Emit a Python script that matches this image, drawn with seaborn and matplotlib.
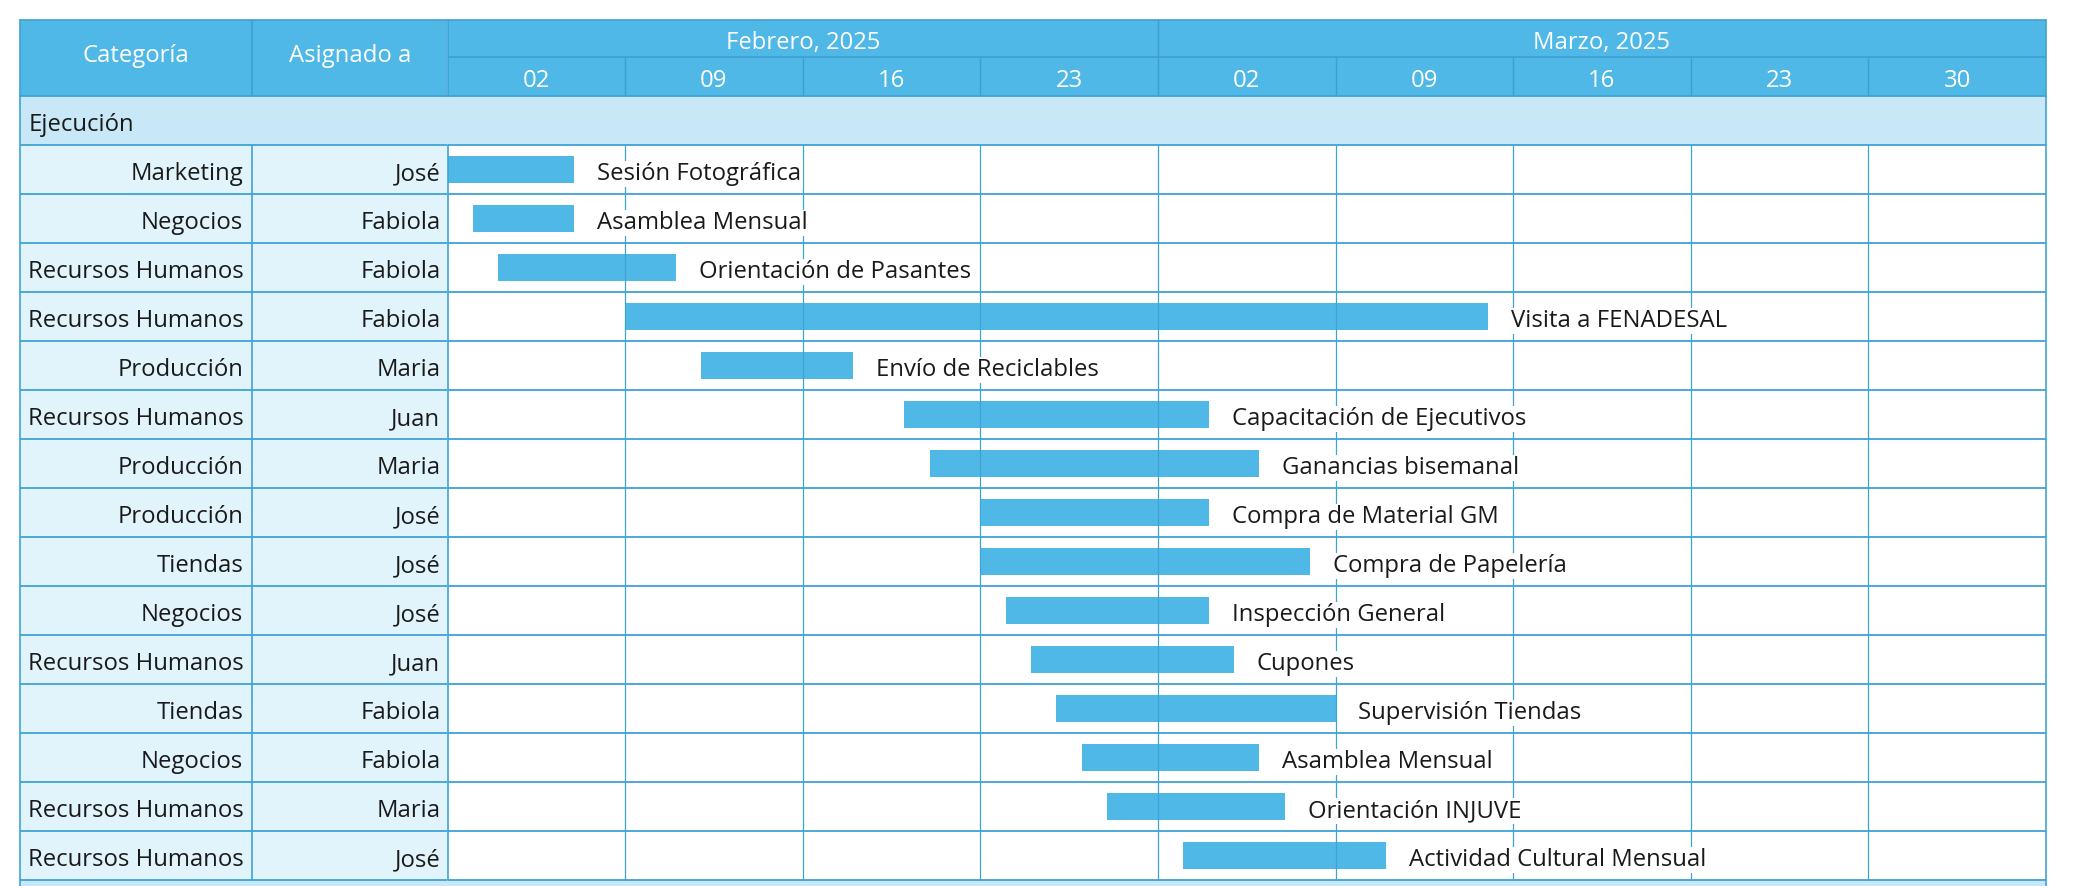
import numpy as np
import pandas as pd
import matplotlib
matplotlib.use("Agg")
import matplotlib.pyplot as plt
import matplotlib.dates as mdates
from matplotlib.patches import Rectangle
import seaborn as sns

# ---------------- data ----------------
categories = ["Marketing", "Negocios", "Recursos Humanos", "Recursos Humanos", "Producción",
              "Recursos Humanos", "Producción", "Producción", "Tiendas", "Negocios",
              "Recursos Humanos", "Tiendas", "Negocios", "Recursos Humanos", "Recursos Humanos"]
assignees = ["José", "Fabiola", "Fabiola", "Fabiola", "Maria", "Juan", "Maria", "José", "José",
             "José", "Juan", "Fabiola", "Fabiola", "Maria", "José"]
tasks = ["Sesión Fotográfica", "Asamblea Mensual", "Orientación de Pasantes", "Visita a FENADESAL",
         "Envío de Reciclables", "Capacitación de Ejecutivos", "Ganancias bisemanal",
         "Compra de Material GM", "Compra de Papelería", "Inspección General", "Cupones",
         "Supervisión Tiendas", "Asamblea Mensual", "Orientación INJUVE", "Actividad Cultural Mensual"]
starts = ["2025-02-02", "2025-02-03", "2025-02-04", "2025-02-09", "2025-02-12", "2025-02-20",
          "2025-02-21", "2025-02-23", "2025-02-23", "2025-02-24", "2025-02-25", "2025-02-26",
          "2025-02-27", "2025-02-28", "2025-03-03"]
ends = ["2025-02-07", "2025-02-07", "2025-02-11", "2025-03-15", "2025-02-18", "2025-03-04",
        "2025-03-06", "2025-03-04", "2025-03-08", "2025-03-04", "2025-03-05", "2025-03-09",
        "2025-03-06", "2025-03-07", "2025-03-11"]
group_name = "Ejecución"
header_cols = ["Categoría", "Asignado a"]
month_labels = ["Febrero, 2025", "Marzo, 2025"]
month_starts = ["2025-02-02", "2025-03-02"]
month_ends = ["2025-03-02", "2025-04-06"]
week_labels = ["02", "09", "16", "23", "02", "09", "16", "23", "30"]
week_starts = ["2025-02-02", "2025-02-09", "2025-02-16", "2025-02-23", "2025-03-02",
               "2025-03-09", "2025-03-16", "2025-03-23", "2025-03-30"]
range_end = "2025-04-06"

# ---------------- style ----------------
sns.set_theme(style="white")
plt.rcParams['font.family'] = ['Open Sans', 'DejaVu Sans']

HEAD = "#4fb8e6"
GROUP = "#c8e8f8"
CELL = "#e1f4fc"
BAR = "#4fb8e6"
LINE = "#3fa3d5"
HLINE = "#3d9fcd"
TXT = "#1a1a1a"
FS = 17.2

W, H = 2076, 886
fig = plt.figure(figsize=(W / 100, H / 100), dpi=100)
fig.patch.set_facecolor("white")


def ax_at(x0, y0, x1, y1):
    return fig.add_axes([x0 / W, 1 - y1 / H, (x1 - x0) / W, (y1 - y0) / H])


TL, C1, C2, TR = 19.5, 252.3, 447.5, 2046
HT, HM, HB = 19.5, 57.3, 96.3
ROW = 49.0
BASE = 10.2 / ROW          # baseline offset below row centre (row units)
n = len(tasks)
ybot = -0.5 + (H - HB) / ROW

s_num = mdates.date2num(pd.to_datetime(starts))
e_num = mdates.date2num(pd.to_datetime(ends))
w_num = mdates.date2num(pd.to_datetime(week_starts))
d0 = w_num[0]
d1 = mdates.date2num(pd.to_datetime(range_end))

# ---------------- body (timeline) ----------------
ax = ax_at(C2, HB, TR, H)
row_ids = [f"t{i:02d}" for i in range(1, n + 1)]
order = ["g0"] + row_ids
df = pd.DataFrame({"row": row_ids, "start": s_num, "dur": e_num - s_num})
sns.barplot(data=df, y="row", x="dur", order=order, orient="y", left=df["start"].to_numpy(),
            color=BAR, saturation=1, width=0.55, errorbar=None, ax=ax, zorder=1, linewidth=0)
ax.set_xlim(d0, d1)
ax.set_ylim(ybot, -0.5)
ax.axhspan(-0.5, 0.5, color=GROUP, lw=0, zorder=0)
ax.axhspan(n + 0.5, n + 1.5, color=GROUP, lw=0, zorder=0)
ax.vlines(w_num[1:], 0.5, n + 0.5, color=LINE, lw=0.9, zorder=2)
ax.hlines(np.arange(0.5, n + 1, 1), d0, d1, color=LINE, lw=1.3, zorder=2.5)
for i, (e, t) in enumerate(zip(e_num, tasks)):
    ax.annotate(t, xy=(e, i + 1 + BASE), xytext=(16.5, 0), textcoords="offset points",
                ha="left", va="baseline", fontsize=FS, color=TXT, zorder=3,
                bbox=dict(fc="white", ec="none", pad=1.0))
ax.set_axis_off()

# ---------------- left columns ----------------
axl = ax_at(TL, HB, C2, H)
axl.set_xlim(TL, C2)
axl.set_ylim(ybot, -0.5)
axl.axhspan(-0.5, 0.5, color=GROUP, lw=0, zorder=0)
axl.axhspan(0.5, n + 0.5, color=CELL, lw=0, zorder=0)
axl.axhspan(n + 0.5, n + 1.5, color=GROUP, lw=0, zorder=0)
axl.vlines([C1], 0.5, n + 0.5, color=LINE, lw=1.2, zorder=2)
axl.hlines(np.arange(0.5, n + 1, 1), TL, C2, color=LINE, lw=1.3, zorder=2)
axl.text(TL + 9.5, 0 + BASE, group_name, ha="left", va="baseline", fontsize=FS, color=TXT)
for i, (c, a) in enumerate(zip(categories, assignees)):
    axl.text(C1 - 9, i + 1 + BASE, c, ha="right", va="baseline", fontsize=FS, color=TXT)
    axl.text(C2 - 7, i + 1 + BASE, a, ha="right", va="baseline", fontsize=FS, color=TXT)
axl.set_axis_off()

# ---------------- header ----------------
hl = ax_at(TL, HT, C2, HB)
hl.set_xlim(TL, C2)
hl.set_ylim(HB, HT)
hl.add_patch(Rectangle((TL, HT), C2 - TL, HB - HT, color=HEAD, lw=0))
hl.vlines([C1], HT, HB, color=HLINE, lw=1.2)
hl.text((TL + C1) / 2, 62.3, header_cols[0], ha="center", va="baseline",
        fontsize=FS, color="white")
hl.text((C1 + C2) / 2, 62.3, header_cols[1], ha="center", va="baseline",
        fontsize=FS, color="white")
hl.set_axis_off()

ht = ax_at(C2, HT, TR, HB)
ht.set_xlim(d0, d1)
ht.set_ylim(HB, HT)
ht.add_patch(Rectangle((d0, HT), d1 - d0, HB - HT, color=HEAD, lw=0))
ht.hlines([HM], d0, d1, color=HLINE, lw=1.2)
ht.vlines(w_num[1:], HM, HB, color=HLINE, lw=1.0)
m_s = mdates.date2num(pd.to_datetime(month_starts))
m_e = mdates.date2num(pd.to_datetime(month_ends))
ht.vlines(m_s[1:], HT, HM, color=HLINE, lw=1.0)
for lab, a, b in zip(month_labels, m_s, m_e):
    ht.text((a + b) / 2, 49.3, lab, ha="center", va="baseline", fontsize=FS, color="white")
w_end = np.append(w_num[1:], d1)
for lab, a, b in zip(week_labels, w_num, w_end):
    ht.text((a + b) / 2, 87.3, lab, ha="center", va="baseline", fontsize=FS, color="white")
ht.set_axis_off()

# ---------------- outer borders ----------------
ov = fig.add_axes([0, 0, 1, 1], zorder=10)
ov.set_xlim(0, W)
ov.set_ylim(H, 0)
ov.set_axis_off()
ov.patch.set_alpha(0)
ov.plot([TL, TR], [HT, HT], color=HLINE, lw=1.2)
ov.plot([TL, TR], [HB, HB], color=LINE, lw=1.3)
ov.plot([TL, TL], [HT, H], color=LINE, lw=1.2)
ov.plot([TR, TR], [HT, H], color=LINE, lw=1.2)
ov.plot([C2, C2], [HT, HB], color=HLINE, lw=1.2)
ov.plot([C2, C2], [HB + ROW, HB + (n + 1) * ROW], color=LINE, lw=1.2)

fig.savefig("out.png", dpi=100, facecolor="white")
